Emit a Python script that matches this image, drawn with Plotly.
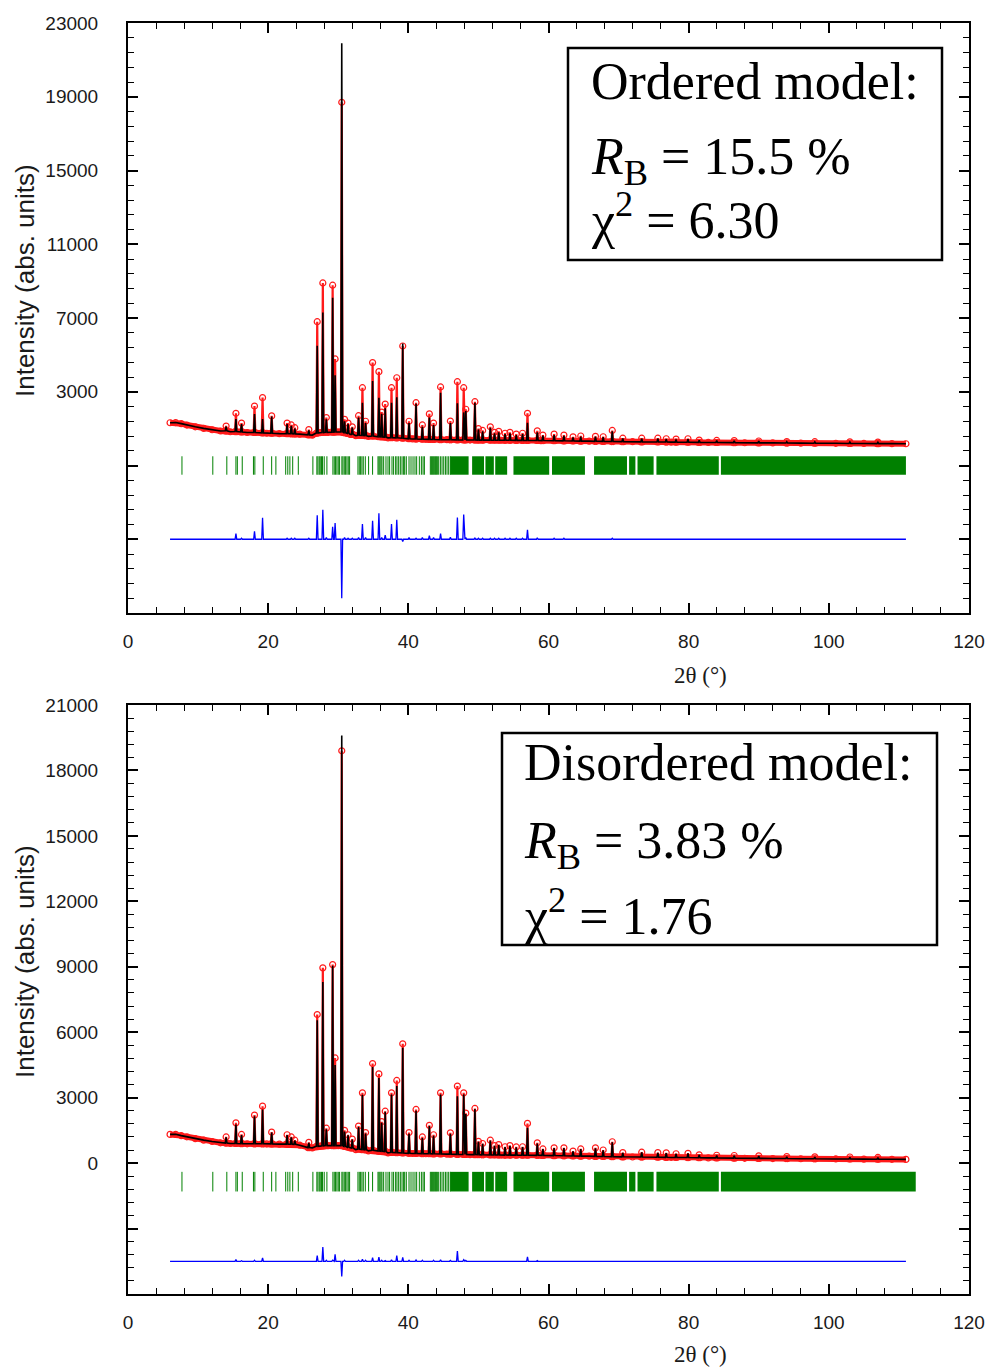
import plotly.graph_objects as go
from plotly.subplots import make_subplots

# ---------------- data ----------------
# background control points (2theta, intensity)
bg_x = [6.0, 6.8, 7.6, 8.4, 9.6, 10.8, 12.0, 13.2, 14.6, 17.0, 19.8, 21.6, 24.5, 26.3, 27.4, 28.6,
        30.0, 31.7, 32.5, 34.3, 37.1, 40.6, 42.5, 45.5, 48.8, 53.3, 58.9, 65.8, 72.0, 77.5, 82.8,
        88.0, 92.0, 96.0, 101.0, 105.0, 109.0, 111.0]
ord_bg_y = [1320, 1330, 1270, 1195, 1100, 1015, 940, 870, 830, 790, 750, 730, 700, 650, 780, 800,
            820, 690, 620, 580, 500, 440, 420, 400, 380, 370, 350, 320, 290, 270, 250,
            235, 225, 215, 205, 195, 185, 180]
dis_bg_y = [1315, 1320, 1260, 1205, 1120, 1054, 990, 930, 900, 885, 885, 870, 820, 700, 780, 800,
            800, 700, 620, 560, 470, 440, 430, 410, 390, 370, 360, 320, 280, 260, 240,
            220, 210, 200, 190, 185, 175, 170]

# peak positions (2theta)
pk_pos = [14.0, 15.4, 16.2, 18.05, 19.2, 20.5, 22.7, 23.3, 23.8, 25.8,
          27.0, 27.8, 28.3, 29.2, 29.55, 30.5, 30.9, 31.4, 32.0, 32.9,
          33.45, 33.9, 34.9, 35.8, 36.2, 36.7, 37.6, 38.35, 39.2, 40.1,
          41.1, 42.0, 43.0, 43.6, 44.6, 46.0, 47.0, 47.9, 48.2, 49.5,
          50.0, 50.6, 51.7, 52.3, 52.9, 53.8, 54.5, 55.4, 56.3, 57.0,
          58.4, 59.2, 60.8, 62.2, 63.5, 64.6, 66.7, 67.8, 69.1, 70.6,
          73.3, 75.6, 76.8, 78.2, 79.9, 81.5, 84.0, 86.5, 90.0, 94.0,
          98.0, 103.0, 107.0]

# ordered model: base, observed top, calculated top
ord_base = [880, 840, 820, 790, 770, 750, 725, 720, 715, 660,
            760, 790, 800, 810, 815, 820, 780, 740, 690, 640,
            630, 620, 600, 560, 550, 540, 510, 500, 480, 450,
            435, 425, 415, 410, 400, 395, 390, 385, 385, 380,
            378, 376, 374, 372, 370, 368, 366, 364, 362, 360,
            355, 352, 345, 338, 330, 322, 312, 308, 300, 295,
            282, 275, 272, 268, 262, 256, 248, 240, 228, 217,
            207, 195, 187]
ord_obs = [1140, 1830, 1300, 2225, 2680, 1690, 1300, 1200, 1050, 950,
           6800, 8900, 1600, 8780, 4780, 18700, 1500, 1300, 1100, 1700,
           3220, 1400, 4580, 4090, 1900, 2330, 3220, 3760, 5480, 1400,
           2405, 1200, 1800, 1300, 3260, 1410, 3545, 3220, 2050, 2460,
           1000, 900, 1100, 800, 850, 750, 800, 700, 750, 1830,
           880, 650, 700, 650, 550, 600, 580, 560, 900, 480,
           480, 480, 450, 430, 450, 380, 360, 350, 330, 300,
           290, 280, 270]
ord_calc = [1100, 1520, 1250, 1790, 1520, 1650, 1250, 1150, 1000, 900,
            5500, 7300, 1500, 8100, 3900, 21900, 1400, 1250, 1050, 1600,
            2400, 1300, 3580, 2680, 1800, 2100, 2400, 2700, 5610, 1300,
            2350, 1100, 1600, 1200, 2950, 1300, 2370, 1880, 1950, 2400,
            950, 850, 1050, 750, 800, 700, 750, 650, 700, 1320,
            800, 620, 650, 600, 520, 560, 560, 540, 850, 460,
            460, 460, 430, 410, 430, 370, 350, 340, 320, 290,
            280, 270, 260]

# disordered model: base, observed top, calculated top
dis_base = [920, 900, 890, 885, 885, 880, 870, 865, 860, 710,
            770, 790, 800, 800, 800, 800, 770, 730, 690, 640,
            620, 610, 590, 550, 540, 530, 490, 480, 465, 450,
            440, 435, 430, 425, 420, 410, 400, 395, 395, 390,
            385, 380, 375, 372, 370, 368, 366, 364, 362, 360,
            357, 354, 345, 335, 328, 322, 308, 302, 295, 288,
            278, 268, 265, 262, 255, 248, 238, 230, 218, 208,
            198, 188, 180]
dis_obs = [1200, 1846, 1313, 2200, 2610, 1420, 1300, 1200, 1050, 950,
           6810, 8950, 1600, 9100, 4820, 18900, 1500, 1300, 1100, 1700,
           3220, 1400, 4565, 4090, 1900, 2380, 3220, 3790, 5470, 1400,
           2460, 1200, 1730, 1300, 3220, 1390, 3530, 3220, 2290, 2505,
           1000, 900, 1050, 800, 850, 750, 800, 740, 750, 1820,
           930, 650, 700, 700, 550, 650, 700, 600, 980, 480,
           500, 480, 470, 430, 450, 380, 360, 350, 330, 300,
           290, 280, 260]
dis_calc = [1180, 1770, 1290, 2150, 2460, 1400, 1280, 1180, 1030, 930,
            6550, 8300, 1550, 9050, 4500, 19600, 1450, 1280, 1080, 1650,
            3130, 1350, 4400, 3900, 1850, 2350, 3150, 3530, 5290, 1350,
            2400, 1150, 1700, 1250, 3150, 1350, 3060, 3150, 2250, 2480,
            980, 880, 1030, 790, 830, 740, 790, 720, 740, 1620,
            900, 640, 690, 690, 540, 640, 680, 590, 950, 470,
            490, 470, 460, 420, 440, 370, 350, 340, 320, 290,
            280, 270, 250]

# Bragg reflection positions (2theta): isolated ticks, then solid bands
bragg_ticks = [7.7, 12.1, 14.1, 15.4, 15.6, 16.3, 17.9, 18.1, 19.3, 20.5, 21.1, 22.5, 22.8,
               23.1, 23.5, 24.3, 26.38, 26.95, 27.10, 27.29, 27.43, 27.62, 27.76, 28.0,
               28.38, 29.24, 29.43, 29.62, 29.81, 30.0, 30.19, 30.52, 30.67, 30.86, 31.05,
               31.24, 31.43, 31.62, 32.81, 33.0, 33.19, 33.38, 33.57, 33.86, 34.33, 34.90,
               35.67, 35.81, 35.95, 36.1, 36.24, 36.48, 36.81, 37.1, 37.33, 37.67, 37.9,
               38.19, 38.38, 38.62, 38.86, 39.1, 39.33, 39.48, 39.71, 40.1, 40.38, 40.67,
               40.95, 41.19, 41.57, 41.86, 42.1, 42.29, 43.14, 43.29, 43.43, 43.57, 43.71,
               43.86, 44.0, 44.14, 44.33, 44.57, 44.81, 45.05, 45.29, 45.52, 45.76, 46.0]
band_start = [46.0, 49.1, 51.0, 52.4, 55.0, 60.5, 66.5, 71.5, 72.7, 75.4, 84.6]
ord_band_end = [48.6, 50.8, 52.2, 54.1, 60.1, 65.2, 71.2, 72.4, 75.0, 84.3, 111.0]
dis_band_end = [48.6, 50.8, 52.2, 54.1, 60.1, 65.2, 71.2, 72.4, 75.0, 84.3, 112.4]

x_ticks = [0, 20, 40, 60, 80, 100, 120]
ord_y_ticks = [23000, 19000, 15000, 11000, 7000, 3000, -1000, -5000, -9000]
dis_y_ticks = [21000, 18000, 15000, 12000, 9000, 6000, 3000, 0, -3000, -6000]

# ---------------- styling constants ----------------
PEAK_HW = 0.12
ORD_TICK = (-1500, -500)
DIS_TICK = (-1300, -400)
ORD_DIFF0 = -5000
DIS_DIFF0 = -4500
GREEN = "#008000"
RED = "#FF1A1A"
SANS = "Liberation Sans, Arial, sans-serif"
SERIF = "Liberation Serif, Times New Roman, serif"

W, H = 986, 1367
ML, MT = 128, 23
MR = W - 969
MB = H - 1294
PW, PH = W - ML - MR, H - MT - MB


def px_to_paper(px, py):
    """page pixel -> paper coordinate"""
    return (px - ML) / PW, (H - MB - py) / PH


def build_profile(bx, by, base, top):
    pts = []
    for x, y in zip(bx, by):
        if all(abs(x - p) > PEAK_HW * 1.5 for p in pk_pos):
            pts.append((x, y))
    for p, b, t in zip(pk_pos, base, top):
        pts += [(p - PEAK_HW, b), (p, t), (p + PEAK_HW, b)]
    pts.sort(key=lambda q: q[0])
    return [q[0] for q in pts], [q[1] for q in pts]


fig = make_subplots(rows=2, cols=1)

panels = [
    (1, ord_bg_y, ord_base, ord_obs, ord_calc, ORD_TICK, ord_band_end, ORD_DIFF0),
    (2, dis_bg_y, dis_base, dis_obs, dis_calc, DIS_TICK, dis_band_end, DIS_DIFF0),
]

for row, bgy, base, obs, calc, (tlo, thi), bend, d0 in panels:
    ox, oy = build_profile(bg_x, bgy, base, obs)
    cx, cy = build_profile(bg_x, bgy, base, calc)
    # Bragg ticks
    tx, ty = [], []
    for p in bragg_ticks:
        tx += [p, p, None]
        ty += [tlo, thi, None]
    fig.add_trace(go.Scatter(x=tx, y=ty, mode="lines", line=dict(color=GREEN, width=1),
                             hoverinfo="skip"), row=row, col=1)
    fig.add_trace(go.Bar(x=[(a + b) / 2 for a, b in zip(band_start, bend)],
                         width=[b - a for a, b in zip(band_start, bend)],
                         y=[thi - tlo] * len(band_start), base=[tlo] * len(band_start),
                         marker=dict(color=GREEN, line=dict(width=0)), hoverinfo="skip"),
                  row=row, col=1)
    # difference curve
    dy = [o - c + d0 for o, c in zip(oy, cy)]
    fig.add_trace(go.Scatter(x=ox, y=dy, mode="lines", line=dict(color="#0000FF", width=1.3)),
                  row=row, col=1)
    # observed: dense band of points along the background
    fig.add_trace(go.Scatter(x=bg_x, y=bgy, mode="lines",
                             line=dict(color=RED, width=6), hoverinfo="skip"),
                  row=row, col=1)
    # observed points
    fig.add_trace(go.Scatter(x=ox, y=oy, mode="lines+markers",
                             line=dict(color=RED, width=2.2),
                             marker=dict(symbol="circle-open", size=6, color=RED,
                                         line=dict(width=1.2))),
                  row=row, col=1)
    # calculated
    fig.add_trace(go.Scatter(x=cx, y=cy, mode="lines", line=dict(color="black", width=1.6)),
                  row=row, col=1)

top_dom = [(H - MB - 613) / PH, 1.0]
bot_dom = [0.0, (H - MB - 705) / PH]

axis_common = dict(showline=True, linewidth=2, linecolor="black", mirror="allticks",
                   ticks="inside", ticklen=10, tickwidth=2, tickcolor="black",
                   showgrid=False, zeroline=False, automargin=False,
                   tickfont=dict(family=SANS, size=19, color="#1a1a1a"))

fig.update_xaxes(**axis_common, range=[0, 120], tickmode="array", tickvals=x_ticks,
                 ticktext=[str(v) for v in x_ticks], ticklabelstandoff=10,
                 minor=dict(ticks="inside", tickmode="linear", tick0=0, dtick=4,
                            ticklen=6, tickwidth=1, tickcolor="black"))
fig.update_xaxes(domain=[0, 1], row=1, col=1)
fig.update_xaxes(domain=[0, 1], row=2, col=1)

fig.update_yaxes(**axis_common, ticklabelstandoff=24)
fig.update_yaxes(domain=top_dom, range=[-9000, 23000], tickmode="array", tickvals=ord_y_ticks,
                 ticktext=[str(v) if v >= 3000 else "" for v in ord_y_ticks],
                 minor=dict(ticks="inside", tickmode="linear", tick0=-9000, dtick=800,
                            ticklen=6, tickwidth=1, tickcolor="black"),
                 row=1, col=1)
fig.update_yaxes(domain=bot_dom, range=[-6000, 21000], tickmode="array", tickvals=dis_y_ticks,
                 ticktext=[str(v) if v >= 0 else "" for v in dis_y_ticks],
                 minor=dict(ticks="inside", tickmode="linear", tick0=-6000, dtick=600,
                            ticklen=6, tickwidth=1, tickcolor="black"),
                 row=2, col=1)

annotations = []
shapes = []
# axis titles
for py_center in (281, 962):
    xp, yp = px_to_paper(25, py_center)
    annotations.append(dict(text="Intensity (abs. units)", x=xp, y=yp, xref="paper", yref="paper",
                            textangle=-90, showarrow=False, xanchor="center", yanchor="middle",
                            font=dict(family=SANS, size=26, color="#1a1a1a")))
for py_center in (675, 1354):
    xp, yp = px_to_paper(700, py_center)
    annotations.append(dict(text="2θ (°)", x=xp, y=yp, xref="paper", yref="paper",
                            showarrow=False, xanchor="center", yanchor="middle",
                            font=dict(family=SERIF, size=23, color="#1a1a1a")))

# info boxes
boxes = [
    ((568, 48, 942, 260), 589, [(81, "Ordered model:"),
                                 (161, "<i>R</i><sub>B</sub> = 15.5 %"),
                                 (217, "χ<sup>2</sup> = 6.30")]),
    ((502, 733, 937, 945), 522, [(762, "Disordered model:"),
                                  (844, "<i>R</i><sub>B</sub> = 3.83 %"),
                                  (912, "χ<sup>2</sup> = 1.76")]),
]
for (x0, y0, x1, y1), tx0, lines in boxes:
    px0, py0 = px_to_paper(x0, y1)
    px1, py1 = px_to_paper(x1, y0)
    shapes.append(dict(type="rect", xref="paper", yref="paper", x0=px0, y0=py0, x1=px1, y1=py1,
                       line=dict(color="black", width=2.5), fillcolor="white"))
    for ly, txt in lines:
        xp, yp = px_to_paper(tx0, ly)
        annotations.append(dict(text=txt, x=xp, y=yp, xref="paper", yref="paper",
                                showarrow=False, xanchor="left", yanchor="middle",
                                font=dict(family=SERIF, size=52, color="black")))

fig.update_layout(width=W, height=H, margin=dict(l=ML, r=MR, t=MT, b=MB, autoexpand=False),
                  plot_bgcolor="white", paper_bgcolor="white", showlegend=False,
                  barmode="overlay", annotations=annotations, shapes=shapes)

# remove the default page margin so the figure fills the window exactly
fig.write_html("out.html", config={"displayModeBar": False},
               post_script="document.body.style.margin='0';")
